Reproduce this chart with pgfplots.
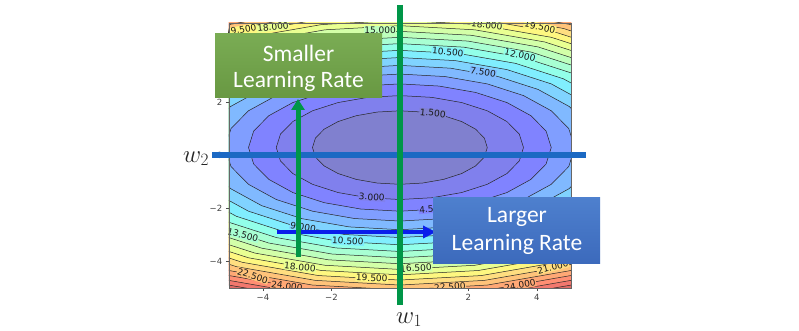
\documentclass[border=0pt]{standalone}
\usepackage{fontspec}
\setmainfont{DejaVu Sans}
\newfontfamily\carlito{Carlito}
\usepackage{pgfplots}
\pgfplotsset{compat=1.18}
\usetikzlibrary{arrows.meta}
\definecolor{b0}{rgb}{0.5,0.5,0.81}
\definecolor{b1}{rgb}{0.5,0.5,0.929}
\definecolor{b2}{rgb}{0.5,0.513,1}
\definecolor{b3}{rgb}{0.5,0.618,1}
\definecolor{b4}{rgb}{0.5,0.724,1}
\definecolor{b5}{rgb}{0.5,0.829,1}
\definecolor{b6}{rgb}{0.5,0.934,0.997}
\definecolor{b7}{rgb}{0.572,1,0.912}
\definecolor{b8}{rgb}{0.657,1,0.827}
\definecolor{b9}{rgb}{0.742,1,0.742}
\definecolor{b10}{rgb}{0.827,1,0.657}
\definecolor{b11}{rgb}{0.912,1,0.572}
\definecolor{b12}{rgb}{0.997,0.967,0.5}
\definecolor{b13}{rgb}{1,0.870,0.5}
\definecolor{b14}{rgb}{1,0.765,0.48}
\definecolor{b15}{rgb}{1,0.66,0.46}
\definecolor{b16}{rgb}{1,0.56,0.45}
\definecolor{b17}{rgb}{0.95,0.47,0.43}
\definecolor{b18}{rgb}{0.88,0.42,0.40}
\definecolor{gline}{RGB}{0,150,72}
\definecolor{bline}{RGB}{28,105,195}
\definecolor{barrow}{RGB}{10,30,235}
\definecolor{gtop}{RGB}{122,172,84}
\definecolor{gbot}{RGB}{104,152,66}
\definecolor{btop}{RGB}{78,128,206}
\definecolor{bbot}{RGB}{60,106,188}
\tikzset{cline/.style={draw=black!85, line width=0.5pt},
  clab/.style={font=\fontsize{9}{10}\selectfont, inner sep=0.6pt, text=black!90}}
\begin{document}
\begin{tikzpicture}
\fill[white] (0,0) rectangle (799pt,-331pt);
\useasboundingbox (0,0) rectangle (799pt,-331pt);
\begin{axis}[
  at={(228.75pt,-288pt)}, anchor=south west,
  scale only axis, width=342.25pt, height=265pt,
  xmin=-5, xmax=5, ymin=-5, ymax=5,
  xtick={-4,-2,0,2,4}, ytick={-4,-2,0,2,4},
  xticklabels={−4,−2,0,2,4}, yticklabels={−4,−2,0,2,4},
  tick label style={font=\fontsize{8.5}{9}\selectfont, text=black!75},
  axis line style={draw=black!60, line width=0.5pt},
  tick style={draw=black!70, line width=0.4pt},
  major tick length=3pt, tick align=outside,
  xtick pos=bottom, ytick pos=left,
  axis background/.style={fill=b18},
  axis on top,
]
\addplot[cline, fill=b17] coordinates {(10.835,0.3) (10.466,1.823) (9.383,3.242) (7.661,4.461) (5.418,5.396) (2.804,5.983) (0,6.184) (-2.804,5.983) (-5.418,5.396) (-7.661,4.461) (-9.383,3.242) (-10.466,1.823) (-10.835,0.3) (-10.466,-1.223) (-9.383,-2.642) (-7.661,-3.861) (-5.418,-4.796) (-2.804,-5.383) (0,-5.584) (2.804,-5.383) (5.418,-4.796) (7.661,-3.861) (9.383,-2.642) (10.466,-1.223) (10.835,0.3)};
\addplot[cline, fill=b16] coordinates {(10.530,0.3) (10.171,1.780) (9.119,3.159) (7.446,4.343) (5.265,5.252) (2.725,5.823) (0,6.018) (-2.725,5.823) (-5.265,5.252) (-7.446,4.343) (-9.119,3.159) (-10.171,1.780) (-10.530,0.3) (-10.171,-1.180) (-9.119,-2.559) (-7.446,-3.743) (-5.265,-4.652) (-2.725,-5.223) (0,-5.418) (2.725,-5.223) (5.265,-4.652) (7.446,-3.743) (9.119,-2.559) (10.171,-1.180) (10.530,0.3)};
\addplot[cline, fill=b15] coordinates {(10.215,0.3) (9.867,1.736) (8.846,3.074) (7.223,4.222) (5.108,5.104) (2.644,5.658) (0,5.847) (-2.644,5.658) (-5.108,5.104) (-7.223,4.222) (-8.846,3.074) (-9.867,1.736) (-10.215,0.3) (-9.867,-1.136) (-8.846,-2.474) (-7.223,-3.622) (-5.108,-4.504) (-2.644,-5.058) (0,-5.247) (2.644,-5.058) (5.108,-4.504) (7.223,-3.622) (8.846,-2.474) (9.867,-1.136) (10.215,0.3)};
\addplot[cline, fill=b14] coordinates {(9.891,0.3) (9.554,1.690) (8.566,2.986) (6.994,4.098) (4.946,4.951) (2.560,5.488) (0,5.671) (-2.560,5.488) (-4.946,4.951) (-6.994,4.098) (-8.566,2.986) (-9.554,1.690) (-9.891,0.3) (-9.554,-1.090) (-8.566,-2.386) (-6.994,-3.498) (-4.946,-4.351) (-2.560,-4.888) (0,-5.071) (2.560,-4.888) (4.946,-4.351) (6.994,-3.498) (8.566,-2.386) (9.554,-1.090) (9.891,0.3)};
\addplot[cline, fill=b13] coordinates {(9.555,0.3) (9.229,1.643) (8.275,2.895) (6.756,3.969) (4.778,4.794) (2.473,5.312) (0,5.489) (-2.473,5.312) (-4.778,4.794) (-6.756,3.969) (-8.275,2.895) (-9.229,1.643) (-9.555,0.3) (-9.229,-1.043) (-8.275,-2.295) (-6.756,-3.369) (-4.778,-4.194) (-2.473,-4.712) (0,-4.889) (2.473,-4.712) (4.778,-4.194) (6.756,-3.369) (8.275,-2.295) (9.229,-1.043) (9.555,0.3)};
\addplot[cline, fill=b12] coordinates {(9.208,0.3) (8.894,1.594) (7.974,2.800) (6.511,3.836) (4.604,4.630) (2.383,5.130) (0,5.300) (-2.383,5.130) (-4.604,4.630) (-6.511,3.836) (-7.974,2.800) (-8.894,1.594) (-9.208,0.3) (-8.894,-0.994) (-7.974,-2.200) (-6.511,-3.236) (-4.604,-4.030) (-2.383,-4.530) (0,-4.700) (2.383,-4.530) (4.604,-4.030) (6.511,-3.236) (7.974,-2.200) (8.894,-0.994) (9.208,0.3)};
\addplot[cline, fill=b11] coordinates {(8.847,0.3) (8.545,1.543) (7.661,2.702) (6.256,3.697) (4.424,4.460) (2.290,4.940) (0,5.104) (-2.290,4.940) (-4.424,4.460) (-6.256,3.697) (-7.661,2.702) (-8.545,1.543) (-8.847,0.3) (-8.545,-0.943) (-7.661,-2.102) (-6.256,-3.097) (-4.424,-3.860) (-2.290,-4.340) (0,-4.504) (2.290,-4.340) (4.424,-3.860) (6.256,-3.097) (7.661,-2.102) (8.545,-0.943) (8.847,0.3)};
\addplot[cline, fill=b10] coordinates {(8.470,0.3) (8.181,1.490) (7.335,2.600) (5.989,3.552) (4.235,4.283) (2.192,4.742) (0,4.899) (-2.192,4.742) (-4.235,4.283) (-5.989,3.552) (-7.335,2.600) (-8.181,1.490) (-8.470,0.3) (-8.181,-0.890) (-7.335,-2.000) (-5.989,-2.952) (-4.235,-3.683) (-2.192,-4.142) (0,-4.299) (2.192,-4.142) (4.235,-3.683) (5.989,-2.952) (7.335,-2.000) (8.181,-0.890) (8.470,0.3)};
\addplot[cline, fill=b9] coordinates {(8.076,0.3) (7.801,1.435) (6.994,2.493) (5.711,3.401) (4.038,4.097) (2.090,4.536) (0,4.685) (-2.090,4.536) (-4.038,4.097) (-5.711,3.401) (-6.994,2.493) (-7.801,1.435) (-8.076,0.3) (-7.801,-0.835) (-6.994,-1.893) (-5.711,-2.801) (-4.038,-3.497) (-2.090,-3.936) (0,-4.085) (2.090,-3.936) (4.038,-3.497) (5.711,-2.801) (6.994,-1.893) (7.801,-0.835) (8.076,0.3)};
\addplot[cline, fill=b8] coordinates {(7.661,0.3) (7.400,1.377) (6.634,2.380) (5.417,3.242) (3.831,3.903) (1.983,4.318) (0,4.460) (-1.983,4.318) (-3.831,3.903) (-5.417,3.242) (-6.634,2.380) (-7.400,1.377) (-7.661,0.3) (-7.400,-0.777) (-6.634,-1.780) (-5.417,-2.642) (-3.831,-3.303) (-1.983,-3.718) (0,-3.860) (1.983,-3.718) (3.831,-3.303) (5.417,-2.642) (6.634,-1.780) (7.400,-0.777) (7.661,0.3)};
\addplot[cline, fill=b7] coordinates {(7.223,0.3) (6.977,1.315) (6.255,2.261) (5.107,3.073) (3.612,3.696) (1.869,4.088) (0,4.222) (-1.869,4.088) (-3.612,3.696) (-5.107,3.073) (-6.255,2.261) (-6.977,1.315) (-7.223,0.3) (-6.977,-0.715) (-6.255,-1.661) (-5.107,-2.473) (-3.612,-3.096) (-1.869,-3.488) (0,-3.622) (1.869,-3.488) (3.612,-3.096) (5.107,-2.473) (6.255,-1.661) (6.977,-0.715) (7.223,0.3)};
\addplot[cline, fill=b6] coordinates {(6.757,0.3) (6.527,1.250) (5.852,2.135) (4.778,2.894) (3.379,3.477) (1.749,3.844) (0,3.969) (-1.749,3.844) (-3.379,3.477) (-4.778,2.894) (-5.852,2.135) (-6.527,1.250) (-6.757,0.3) (-6.527,-0.650) (-5.852,-1.535) (-4.778,-2.294) (-3.379,-2.877) (-1.749,-3.244) (0,-3.369) (1.749,-3.244) (3.379,-2.877) (4.778,-2.294) (5.852,-1.535) (6.527,-0.650) (6.757,0.3)};
\addplot[cline, fill=b5] coordinates {(6.255,0.3) (6.042,1.179) (5.417,1.999) (4.423,2.702) (3.128,3.242) (1.619,3.581) (0,3.697) (-1.619,3.581) (-3.128,3.242) (-4.423,2.702) (-5.417,1.999) (-6.042,1.179) (-6.255,0.3) (-6.042,-0.579) (-5.417,-1.399) (-4.423,-2.102) (-3.128,-2.642) (-1.619,-2.981) (0,-3.097) (1.619,-2.981) (3.128,-2.642) (4.423,-2.102) (5.417,-1.399) (6.042,-0.579) (6.255,0.3)};
\addplot[cline, fill=b4] coordinates {(5.710,0.3) (5.515,1.103) (4.945,1.851) (4.038,2.493) (2.855,2.985) (1.478,3.295) (0,3.401) (-1.478,3.295) (-2.855,2.985) (-4.038,2.493) (-4.945,1.851) (-5.515,1.103) (-5.710,0.3) (-5.515,-0.503) (-4.945,-1.251) (-4.038,-1.893) (-2.855,-2.385) (-1.478,-2.695) (0,-2.801) (1.478,-2.695) (2.855,-2.385) (4.038,-1.893) (4.945,-1.251) (5.515,-0.503) (5.710,0.3)};
\addplot[cline, fill=b3] coordinates {(5.108,0.3) (4.934,1.018) (4.424,1.687) (3.612,2.261) (2.554,2.702) (1.322,2.979) (0,3.074) (-1.322,2.979) (-2.554,2.702) (-3.612,2.261) (-4.424,1.687) (-4.934,1.018) (-5.108,0.3) (-4.934,-0.418) (-4.424,-1.087) (-3.612,-1.661) (-2.554,-2.102) (-1.322,-2.379) (0,-2.474) (1.322,-2.379) (2.554,-2.102) (3.612,-1.661) (4.424,-1.087) (4.934,-0.418) (5.108,0.3)};
\addplot[cline, fill=b2] coordinates {(4.423,0.3) (4.272,0.922) (3.830,1.501) (3.128,1.998) (2.212,2.380) (1.145,2.620) (0,2.702) (-1.145,2.620) (-2.212,2.380) (-3.128,1.998) (-3.830,1.501) (-4.272,0.922) (-4.423,0.3) (-4.272,-0.322) (-3.830,-0.901) (-3.128,-1.398) (-2.212,-1.780) (-1.145,-2.020) (0,-2.102) (1.145,-2.020) (2.212,-1.780) (3.128,-1.398) (3.830,-0.901) (4.272,-0.322) (4.423,0.3)};
\addplot[cline, fill=b1] coordinates {(3.612,0.3) (3.489,0.808) (3.128,1.281) (2.554,1.687) (1.806,1.998) (0.935,2.194) (0,2.261) (-0.935,2.194) (-1.806,1.998) (-2.554,1.687) (-3.128,1.281) (-3.489,0.808) (-3.612,0.3) (-3.489,-0.208) (-3.128,-0.681) (-2.554,-1.087) (-1.806,-1.398) (-0.935,-1.594) (0,-1.661) (0.935,-1.594) (1.806,-1.398) (2.554,-1.087) (3.128,-0.681) (3.489,-0.208) (3.612,0.3)};
\addplot[cline, fill=b0] coordinates {(2.554,0.3) (2.467,0.659) (2.212,0.994) (1.806,1.281) (1.277,1.501) (0.661,1.640) (0,1.687) (-0.661,1.640) (-1.277,1.501) (-1.806,1.281) (-2.212,0.994) (-2.467,0.659) (-2.554,0.3) (-2.467,-0.059) (-2.212,-0.394) (-1.806,-0.681) (-1.277,-0.901) (-0.661,-1.040) (0,-1.087) (0.661,-1.040) (1.277,-0.901) (1.806,-0.681) (2.212,-0.394) (2.467,-0.059) (2.554,0.3)};
% contour labels
\node[clab, fill=b0, rotate=-6] at (axis cs:0.96,1.60) {1.500};
\node[clab, fill=b1, rotate=-4] at (axis cs:-0.82,-1.57) {3.000};
\node[clab, fill=b2, rotate=5] at (axis cs:0.94,-2.02) {4.500};
\node[clab, fill=b4, rotate=-10] at (axis cs:2.43,3.15) {7.500};
\node[clab, fill=b6, rotate=-5] at (axis cs:1.40,3.91) {10.500};
\node[clab, fill=b7, rotate=-13] at (axis cs:3.51,3.79) {12.000};
\node[clab, fill=b9, rotate=0] at (axis cs:-0.58,4.74) {15.000};
\node[clab, fill=b11, rotate=-6] at (axis cs:2.54,4.92) {18.000};
\node[clab, fill=b12, rotate=-12] at (axis cs:4.09,4.85) {19.500};
\node[clab, fill=b12, rotate=10] at (axis cs:-4.65,4.74) {19.500};
\node[clab, fill=b11, rotate=6] at (axis cs:-3.71,4.85) {18.000};
\node[clab, fill=b5, rotate=-10] at (axis cs:-2.83,-2.70) {9.000};
\node[clab, fill=b8, rotate=-15] at (axis cs:-4.59,-3.0) {13.500};
\node[clab, fill=b6, rotate=-3] at (axis cs:-1.52,-3.23) {10.500};
\node[clab, fill=b11, rotate=-6] at (axis cs:-2.92,-4.21) {18.000};
\node[clab, fill=b14, rotate=-18] at (axis cs:-4.30,-4.54) {22.500};
\node[clab, fill=b15, rotate=-8] at (axis cs:-3.30,-4.93) {24.000};
\node[clab, fill=b12, rotate=-2] at (axis cs:-0.82,-4.62) {19.500};
\node[clab, fill=b10, rotate=3] at (axis cs:0.47,-4.25) {16.500};
\node[clab, fill=b14, rotate=4] at (axis cs:1.46,-4.96) {22.500};
\node[clab, fill=b15, rotate=10] at (axis cs:3.51,-4.89) {24.000};
\node[clab, fill=b13, rotate=14] at (axis cs:4.47,-4.21) {21.000};
\end{axis}
% annotations
\draw[bline, line width=6.5pt] (212pt,-155pt) -- (586pt,-155pt);
\draw[barrow, line width=4pt, -{Triangle[length=13pt,width=12pt]}] (277pt,-232pt) -- (436pt,-232pt);
\draw[gline, line width=5pt, -{Triangle[length=11pt,width=13pt]}] (298pt,-257pt) -- (298pt,-99pt);
\draw[gline, line width=6pt] (400pt,-5pt) -- (400pt,-305pt);
\fill[top color=gtop, bottom color=gbot] (215pt,-34pt) rectangle (382pt,-98pt);
\fill[top color=btop, bottom color=bbot] (433pt,-197pt) rectangle (600pt,-263pt);
\node[anchor=base, text=white, font=\carlito\fontsize{23.5}{27}\selectfont, inner sep=0pt] at (298.5pt,-62pt) {Smaller};
\node[anchor=base, text=white, font=\carlito\fontsize{23.5}{27}\selectfont, inner sep=0pt] at (298.5pt,-88pt) {Learning Rate};
\node[anchor=base, text=white, font=\carlito\fontsize{23.5}{27}\selectfont, inner sep=0pt] at (517pt,-222pt) {Larger};
\node[anchor=base, text=white, font=\carlito\fontsize{23.5}{27}\selectfont, inner sep=0pt] at (517pt,-250pt) {Learning Rate};
\node[anchor=base west, inner sep=0pt, text=black!85, font=\fontsize{23}{25}\selectfont] at (183pt,-162pt) {$w_2$};
\node[anchor=base west, inner sep=0pt, text=black!85, font=\fontsize{23}{25}\selectfont] at (396pt,-323pt) {$w_1$};
\end{tikzpicture}
\end{document}
